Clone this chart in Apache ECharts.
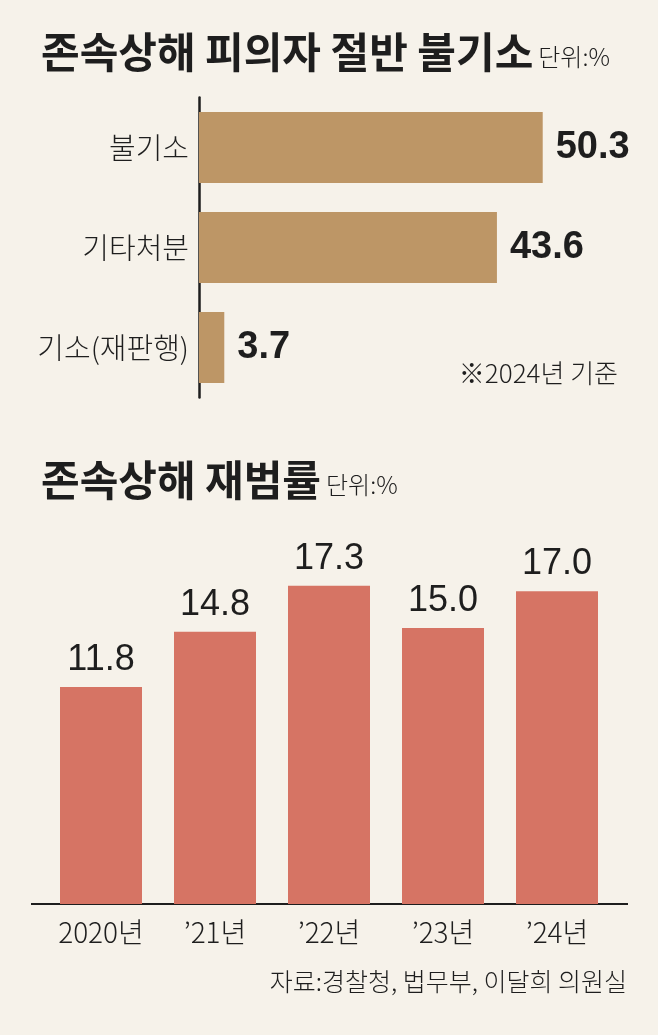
<!DOCTYPE html>
<html>
<head>
<meta charset="utf-8">
<script src="https://cdn.jsdelivr.net/npm/echarts@6/dist/echarts.min.js"></script>
<style>
  html, body { margin: 0; padding: 0; background: #f6f2ea; }
  #chart { width: 658px; height: 1035px; }
</style>
</head>
<body>
<div id="chart"></div>
<script>
// 존속상해 피의자 처분 (2024년 기준, 단위 %)
var dispNames = ['불기소', '기타처분', '기소(재판행)'];
var dispValues = [50.3, 43.6, 3.7];

// 존속상해 재범률 (단위 %)
var years = ['2020년', '’21년', '’22년', '’23년', '’24년'];
var rates = [11.8, 14.8, 17.3, 15.0, 17.0];

var KR = '"Noto Sans CJK KR", sans-serif';
var NUM = '"Liberation Sans", sans-serif';
var INK = '#1e1e1e';

var myChart = echarts.init(document.getElementById('chart'));

var option = {
    backgroundColor: '#f6f2ea',
    animation: false,
    title: [
        {
            left: 36, top: 26,
            text: '{a|존속상해 피의자 절반 불기소} {b|단위:%}',
            textStyle: {
                rich: {
                    a: { fontFamily: KR, fontSize: 42, fontWeight: 'bold', color: INK },
                    b: { fontFamily: KR, fontSize: 24, fontWeight: 300, color: INK, padding: [10, 0, 0, 0] }
                }
            }
        },
        {
            left: 36, top: 454,
            text: '{a|존속상해 재범률} {b|단위:%}',
            textStyle: {
                rich: {
                    a: { fontFamily: KR, fontSize: 42, fontWeight: 'bold', color: INK },
                    b: { fontFamily: KR, fontSize: 24, fontWeight: 300, color: INK, padding: [10, 0, 0, 0] }
                }
            }
        }
    ],
    grid: [
        { left: 199, top: 97.5, width: 410, height: 300 },
        { left: 44, top: 536, width: 570, height: 368 }
    ],
    xAxis: [
        { gridIndex: 0, type: 'value', min: 0, max: 60, show: false },
        {
            gridIndex: 1, type: 'category', data: years,
            axisLine: { show: false },
            axisTick: { show: false },
            axisLabel: { fontFamily: KR, fontSize: 28, fontWeight: 300, color: INK, margin: 14 }
        }
    ],
    yAxis: [
        {
            gridIndex: 0, type: 'category', data: dispNames, inverse: true,
            axisLine: { show: true, lineStyle: { color: INK, width: 2.5 } },
            axisTick: { show: false },
            axisLabel: { fontFamily: KR, fontSize: 29, fontWeight: 300, color: INK, margin: 10 }
        },
        { gridIndex: 1, type: 'value', min: 0, max: 20, show: false }
    ],
    series: [
        {
            type: 'bar',
            xAxisIndex: 0, yAxisIndex: 0,
            data: dispValues,
            barWidth: 71,
            itemStyle: { color: '#bd9666' },
            label: {
                show: true, position: 'right', distance: 13,
                fontFamily: NUM, fontSize: 38, fontWeight: 'bold', color: INK,
                formatter: function (p) { return p.value.toFixed(1); }
            }
        },
        {
            type: 'bar',
            xAxisIndex: 1, yAxisIndex: 1,
            data: rates,
            barWidth: 82,
            itemStyle: { color: '#d67464' },
            label: {
                show: true, position: 'top', distance: 9,
                fontFamily: NUM, fontSize: 36, color: INK,
                formatter: function (p) { return p.value.toFixed(1); }
            }
        }
    ],
    graphic: [
        {
            type: 'line',
            shape: { x1: 31, y1: 904, x2: 628, y2: 904 },
            style: { stroke: INK, lineWidth: 2 }
        },
        {
            type: 'text', right: 40, top: 360,
            style: { text: '※2024년 기준', font: '300 26px ' + KR, fill: INK }
        },
        {
            type: 'text', right: 31, top: 969,
            style: { text: '자료:경찰청, 법무부, 이달희 의원실', font: '300 25px ' + KR, fill: INK }
        }
    ]
};

myChart.setOption(option);
</script>
</body>
</html>
